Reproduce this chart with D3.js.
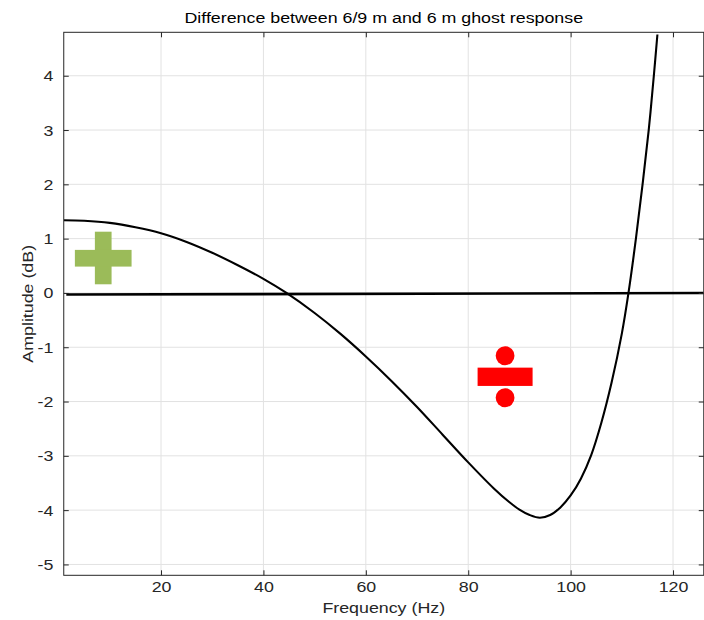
<!DOCTYPE html>
<html>
<head>
<meta charset="utf-8">
<script src="https://cdn.jsdelivr.net/npm/d3@7"></script>
<style>
  html, body { margin: 0; padding: 0; background: #fff; }
  svg { display: block; font-family: "Liberation Sans", Arial, Helvetica, sans-serif; }
</style>
</head>
<body>
<svg id="chart" width="704" height="620"></svg>
<script>
// ---- data ----
const freq = [1, 5, 10, 15, 20, 25, 30, 35, 40, 44.5, 50, 55, 60, 65, 70, 75, 80, 85, 88, 90, 92, 94, 96, 98, 100, 102, 104, 106, 108, 110, 111.3, 112.75, 114.05, 115.25, 116.25, 116.95];
const amp  = [1.34, 1.33, 1.29, 1.21, 1.10, 0.94, 0.74, 0.51, 0.26, 0, -0.37, -0.75, -1.17, -1.62, -2.10, -2.61, -3.12, -3.60, -3.85, -3.99, -4.09, -4.14, -4.09, -3.95, -3.73, -3.42, -2.99, -2.39, -1.65, -0.75, 0, 1, 2, 3, 4, 4.76];
const zeroFreq = [1.5, 126];
const zeroAmp  = [-0.03, 0];
const xTicks = [20, 40, 60, 80, 100, 120];
const yTicks = [-5, -4, -3, -2, -1, 0, 1, 2, 3, 4];
const xDomain = [1, 126];
const yDomain = [-5.2, 4.8];
const plusPos = [8.7, 0.64];
const dividePos = [87.2, -1.545];
const title = "Difference between 6/9 m and 6 m ghost response";
const xLabel = "Frequency (Hz)";
const yLabel = "Amplitude (dB)";

// ---- layout ----
const L = 63.75, R = 703.75, T = 32.3, B = 575.3;
const SX = 1.15, FS = 15.5;
const svg = d3.select("#chart");
const x = d3.scaleLinear().domain(xDomain).range([L, R]);
const y = d3.scaleLinear().domain(yDomain).range([B, T]);
const axisColor = "#262626";

// grid
const grid = svg.append("g");
grid.selectAll("line.vx").data(xTicks).join("line")
  .attr("x1", d => x(d)).attr("x2", d => x(d)).attr("y1", T).attr("y2", B)
  .attr("stroke", "#e2e2e2").attr("stroke-width", 1);
grid.selectAll("line.hy").data(yTicks).join("line")
  .attr("x1", L).attr("x2", R).attr("y1", d => y(d)).attr("y2", d => y(d))
  .attr("stroke", "#e2e2e2").attr("stroke-width", 1);

// clip
svg.append("clipPath").attr("id", "clip").append("rect")
  .attr("x", L).attr("y", T).attr("width", R - L).attr("height", B - T);

// zero line
const straight = d3.line().x(d => x(d[0])).y(d => y(d[1]));
svg.append("path")
  .datum(zeroFreq.map((f, i) => [f, zeroAmp[i]]))
  .attr("d", straight).attr("fill", "none").attr("stroke", "#000").attr("stroke-width", 2.6)
  .attr("clip-path", "url(#clip)");

// curve
const smooth = d3.line().x(d => x(d[0])).y(d => y(d[1])).curve(d3.curveCatmullRom.alpha(0.5));
svg.append("path")
  .datum(freq.map((f, i) => [f, amp[i]]))
  .attr("d", smooth)
  .attr("fill", "none").attr("stroke", "#000").attr("stroke-width", 2.1)
  .attr("clip-path", "url(#clip)");

// plus sign (green)
const pg = svg.append("g").attr("transform", `translate(${x(plusPos[0])},${y(plusPos[1])})`).attr("fill", "#9bbb59");
pg.append("rect").attr("x", -8.3).attr("y", -26.5).attr("width", 16.7).attr("height", 52.6);
pg.append("rect").attr("x", -28.3).attr("y", -8.3).attr("width", 56.7).attr("height", 16.7);

// division sign (red)
const dg = svg.append("g").attr("transform", `translate(${x(dividePos[0])},${y(dividePos[1])})`).attr("fill", "#ff0000");
dg.append("rect").attr("x", -27.5).attr("y", -9.2).attr("width", 55).attr("height", 18.3);
dg.append("circle").attr("cx", 0).attr("cy", -21.1).attr("r", 9.4);
dg.append("circle").attr("cx", 0).attr("cy", 20.9).attr("r", 9.4);

// axes
function styleAxis(g) {
  g.select(".domain").remove();
  g.selectAll(".tick line").attr("stroke", axisColor);
  g.selectAll(".tick text").attr("fill", axisColor).attr("font-size", FS)
    .attr("font-family", "Liberation Sans, Arial, sans-serif");
}
const fmt = d => String(d);
const gx = svg.append("g").attr("transform", `translate(0,${B})`)
  .call(d3.axisBottom(x).tickValues(xTicks).tickFormat(fmt).tickSizeInner(-5).tickSizeOuter(0).tickPadding(6));
styleAxis(gx);
gx.selectAll(".tick text").attr("transform", `scale(${SX},1)`);

const gy = svg.append("g").attr("transform", `translate(${L},0)`)
  .call(d3.axisLeft(y).tickValues(yTicks).tickFormat(fmt).tickSizeInner(-5).tickSizeOuter(0).tickPadding(9));
styleAxis(gy);
gy.selectAll(".tick text").attr("transform", `scale(${SX},1)`);

const gt = svg.append("g").attr("transform", `translate(0,${T})`)
  .call(d3.axisTop(x).tickValues(xTicks).tickSizeInner(-5).tickSizeOuter(0).tickFormat(""));
styleAxis(gt);
const gr = svg.append("g").attr("transform", `translate(${R},0)`)
  .call(d3.axisRight(y).tickValues(yTicks).tickSizeInner(-5).tickSizeOuter(0).tickFormat(""));
styleAxis(gr);

// box
svg.append("rect").attr("x", L).attr("y", T).attr("width", R - L).attr("height", B - T)
  .attr("fill", "none").attr("stroke", axisColor).attr("stroke-width", 1);

// labels
svg.append("text").attr("transform", `translate(${(L + R) / 2},23) scale(${SX},1)`)
  .attr("text-anchor", "middle").attr("font-size", FS).attr("fill", "#000").text(title);
svg.append("text").attr("transform", `translate(${(L + R) / 2},613) scale(${SX},1)`)
  .attr("text-anchor", "middle").attr("font-size", FS).attr("fill", axisColor).text(xLabel);
svg.append("text").attr("transform", `translate(33,${(T + B) / 2}) rotate(-90) scale(${SX},1)`)
  .attr("text-anchor", "middle").attr("font-size", FS).attr("fill", axisColor).text(yLabel);
</script>
</body>
</html>
